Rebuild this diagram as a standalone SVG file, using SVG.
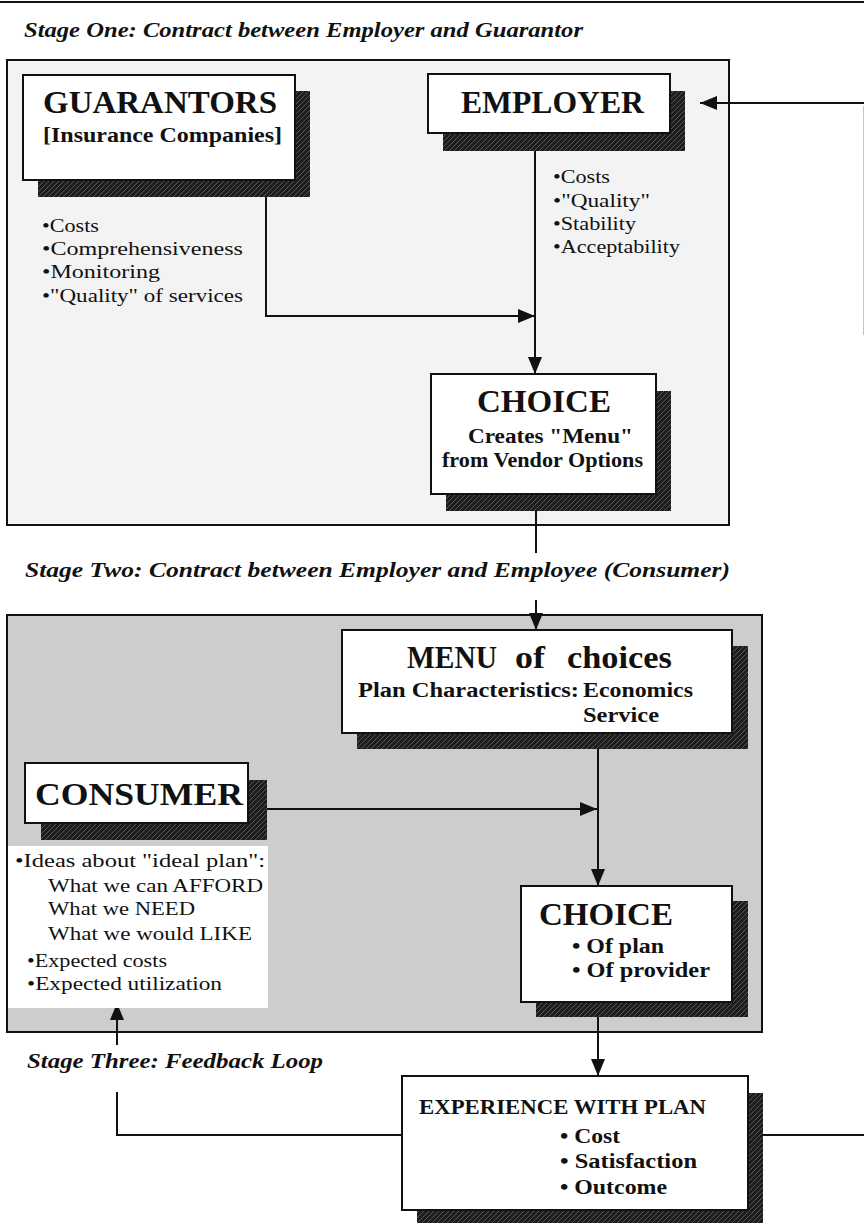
<svg xmlns="http://www.w3.org/2000/svg" width="864" height="1223" viewBox="0 0 864 1223">
  <style>
    .title { font-family: "Liberation Serif", "Times New Roman", serif; font-size: 20.5px; font-weight: bold; font-style: italic; fill: #111; }
    .head { font-family: "Liberation Serif", "Times New Roman", serif; font-size: 31px; font-weight: bold; fill: #111; }
    .sub { font-family: "Liberation Serif", "Times New Roman", serif; font-size: 20.5px; font-weight: bold; fill: #111; }
    .item { font-family: "Liberation Serif", "Times New Roman", serif; font-size: 19.5px; fill: #111; }
    .box { fill: #fff; stroke: #111; stroke-width: 2; }
    .shadow { fill: url(#hatch); }
    .line { fill: none; stroke: #111; stroke-width: 2; }
    .arrow { fill: none; stroke: #111; stroke-width: 2; marker-end: url(#head); }
  </style>
  <defs>
    <pattern id="hatch" patternUnits="userSpaceOnUse" width="5" height="5">
      <rect width="5" height="5" fill="#1d1d1d"/>
      <path d="M-1,6 L6,-1" stroke="#7a7a7a" stroke-width="0.6"/>
    </pattern>
    <marker id="head" markerUnits="userSpaceOnUse" markerWidth="18" markerHeight="14" refX="17" refY="7" orient="auto">
      <path d="M0,0 L17,7 L0,14 z" fill="#111"/>
    </marker>
  </defs>

  <!-- page rule -->
  <line x1="0" y1="2" x2="864" y2="2" stroke="#111" stroke-width="2"/>

  <!-- stage panels -->
  <g id="stage-one">
    <text class="title" x="24" y="37" textLength="559" lengthAdjust="spacingAndGlyphs">Stage One: Contract between Employer and Guarantor</text>
    <rect x="7" y="60" width="722" height="465" fill="#f3f3f3" stroke="#111" stroke-width="2"/>
  </g>
  <g id="stage-two">
    <text class="title" x="25" y="577" textLength="705" lengthAdjust="spacingAndGlyphs">Stage Two: Contract between Employer and Employee (Consumer)</text>
    <rect x="7" y="615" width="755" height="417" fill="#cdcdcd" stroke="#111" stroke-width="2"/>
  </g>
  <g id="stage-three">
    <text class="title" x="27" y="1068" textLength="296" lengthAdjust="spacingAndGlyphs">Stage Three: Feedback Loop</text>
  </g>

  <!-- connectors -->
  <g id="connectors">
    <path class="arrow" d="M864,103 H700"/>
    <line x1="863.5" y1="106" x2="863.5" y2="335" stroke="#c4c4c4" stroke-width="1"/>
    <path class="arrow" d="M535,133 V374"/>
    <path class="arrow" d="M266,197 V316 H535"/>
    <path class="line" d="M536,511 V553"/>
    <path class="arrow" d="M536,600 V630"/>
    <path class="arrow" d="M598,749 V886"/>
    <path class="arrow" d="M267,809 H597"/>
    <path class="arrow" d="M598,1017 V1076"/>
    <path class="line" d="M402,1135 H117 V1092"/>
    <path class="arrow" d="M117,1045 V1003"/>
    <path class="line" d="M763,1135 H864"/>
  </g>

  <g id="guarantors">
    <rect class="shadow" x="38" y="91" width="272" height="106"/>
    <rect class="box" x="23" y="75" width="272" height="105"/>
    <text class="head" x="43" y="113" textLength="234" lengthAdjust="spacingAndGlyphs">GUARANTORS</text>
    <text class="sub" x="43" y="142" textLength="239" lengthAdjust="spacingAndGlyphs">[Insurance Companies]</text>
  </g>
  <g id="guarantor-criteria">
    <text class="item" x="42" y="232" textLength="57" lengthAdjust="spacingAndGlyphs">•Costs</text>
    <text class="item" x="42" y="255" textLength="201" lengthAdjust="spacingAndGlyphs">•Comprehensiveness</text>
    <text class="item" x="42" y="278" textLength="118" lengthAdjust="spacingAndGlyphs">•Monitoring</text>
    <text class="item" x="42" y="302" textLength="201" lengthAdjust="spacingAndGlyphs">•"Quality" of services</text>
  </g>

  <g id="employer">
    <rect class="shadow" x="443" y="91" width="242" height="60"/>
    <rect class="box" x="428" y="74" width="242" height="59"/>
    <text class="head" x="461" y="113" textLength="183" lengthAdjust="spacingAndGlyphs">EMPLOYER</text>
  </g>
  <g id="employer-criteria">
    <text class="item" x="553" y="183" textLength="57" lengthAdjust="spacingAndGlyphs">•Costs</text>
    <text class="item" x="553" y="207" textLength="97" lengthAdjust="spacingAndGlyphs">•"Quality"</text>
    <text class="item" x="553" y="230" textLength="83" lengthAdjust="spacingAndGlyphs">•Stability</text>
    <text class="item" x="553" y="253" textLength="127" lengthAdjust="spacingAndGlyphs">•Acceptability</text>
  </g>

  <g id="employer-choice">
    <rect class="shadow" x="446" y="391" width="225" height="120"/>
    <rect class="box" x="431" y="374" width="225" height="120"/>
    <text class="head" x="477" y="412" font-size="28" textLength="134" lengthAdjust="spacingAndGlyphs">CHOICE</text>
    <text class="sub" x="468" y="443" textLength="165" lengthAdjust="spacingAndGlyphs">Creates "Menu"</text>
    <text class="sub" x="442" y="467" textLength="201" lengthAdjust="spacingAndGlyphs">from Vendor Options</text>
  </g>

  <g id="menu">
    <rect class="shadow" x="357" y="646" width="391" height="103"/>
    <rect class="box" x="342" y="630" width="390" height="103"/>
    <text class="head" y="668">
      <tspan x="407" textLength="90" lengthAdjust="spacingAndGlyphs">MENU</tspan>
      <tspan x="515" textLength="30" lengthAdjust="spacingAndGlyphs">of</tspan>
      <tspan x="567" textLength="105" lengthAdjust="spacingAndGlyphs">choices</tspan>
    </text>
    <text class="sub" x="358" y="697" textLength="221" lengthAdjust="spacingAndGlyphs">Plan Characteristics:</text>
    <text class="sub" x="583" y="697" textLength="110" lengthAdjust="spacingAndGlyphs">Economics</text>
    <text class="sub" x="583" y="722" textLength="76" lengthAdjust="spacingAndGlyphs">Service</text>
  </g>

  <g id="consumer">
    <rect class="shadow" x="41" y="780" width="226" height="60"/>
    <rect class="box" x="25" y="763" width="223" height="60"/>
    <text class="head" x="35" y="805" textLength="208" lengthAdjust="spacingAndGlyphs">CONSUMER</text>
  </g>
  <g id="consumer-ideas">
    <rect x="8" y="846" width="260" height="162" fill="#fff"/>
    <text class="item" x="15" y="867" font-size="20.5" textLength="250" lengthAdjust="spacingAndGlyphs">•Ideas about "ideal plan":</text>
    <text class="item" x="48" y="892" font-size="20.5" textLength="215" lengthAdjust="spacingAndGlyphs">What we can AFFORD</text>
    <text class="item" x="48" y="915" font-size="20.5" textLength="147" lengthAdjust="spacingAndGlyphs">What we NEED</text>
    <text class="item" x="48" y="940" font-size="20.5" textLength="204" lengthAdjust="spacingAndGlyphs">What we would LIKE</text>
    <text class="item" x="27" y="967" font-size="20.5" textLength="140" lengthAdjust="spacingAndGlyphs">•Expected costs</text>
    <text class="item" x="27" y="990" font-size="20.5" textLength="195" lengthAdjust="spacingAndGlyphs">•Expected utilization</text>
  </g>

  <g id="consumer-choice">
    <rect class="shadow" x="536" y="901" width="212" height="116"/>
    <rect class="box" x="521" y="886" width="211" height="116"/>
    <text class="head" x="539" y="925" font-size="28" textLength="134" lengthAdjust="spacingAndGlyphs">CHOICE</text>
    <text class="sub" x="572" y="953" font-size="21.5" textLength="92" lengthAdjust="spacingAndGlyphs">• Of plan</text>
    <text class="sub" x="572" y="977" font-size="21.5" textLength="138" lengthAdjust="spacingAndGlyphs">• Of provider</text>
  </g>

  <g id="experience">
    <rect class="shadow" x="417" y="1093" width="346" height="135"/>
    <rect class="box" x="402" y="1076" width="346" height="134"/>
    <text class="sub" x="419" y="1114" font-size="20.5" textLength="287" lengthAdjust="spacingAndGlyphs">EXPERIENCE WITH PLAN</text>
    <text class="sub" x="560" y="1143" font-size="22" textLength="60" lengthAdjust="spacingAndGlyphs">• Cost</text>
    <text class="sub" x="560" y="1168" font-size="22" textLength="137" lengthAdjust="spacingAndGlyphs">• Satisfaction</text>
    <text class="sub" x="560" y="1194" font-size="22" textLength="107" lengthAdjust="spacingAndGlyphs">• Outcome</text>
  </g>
</svg>
